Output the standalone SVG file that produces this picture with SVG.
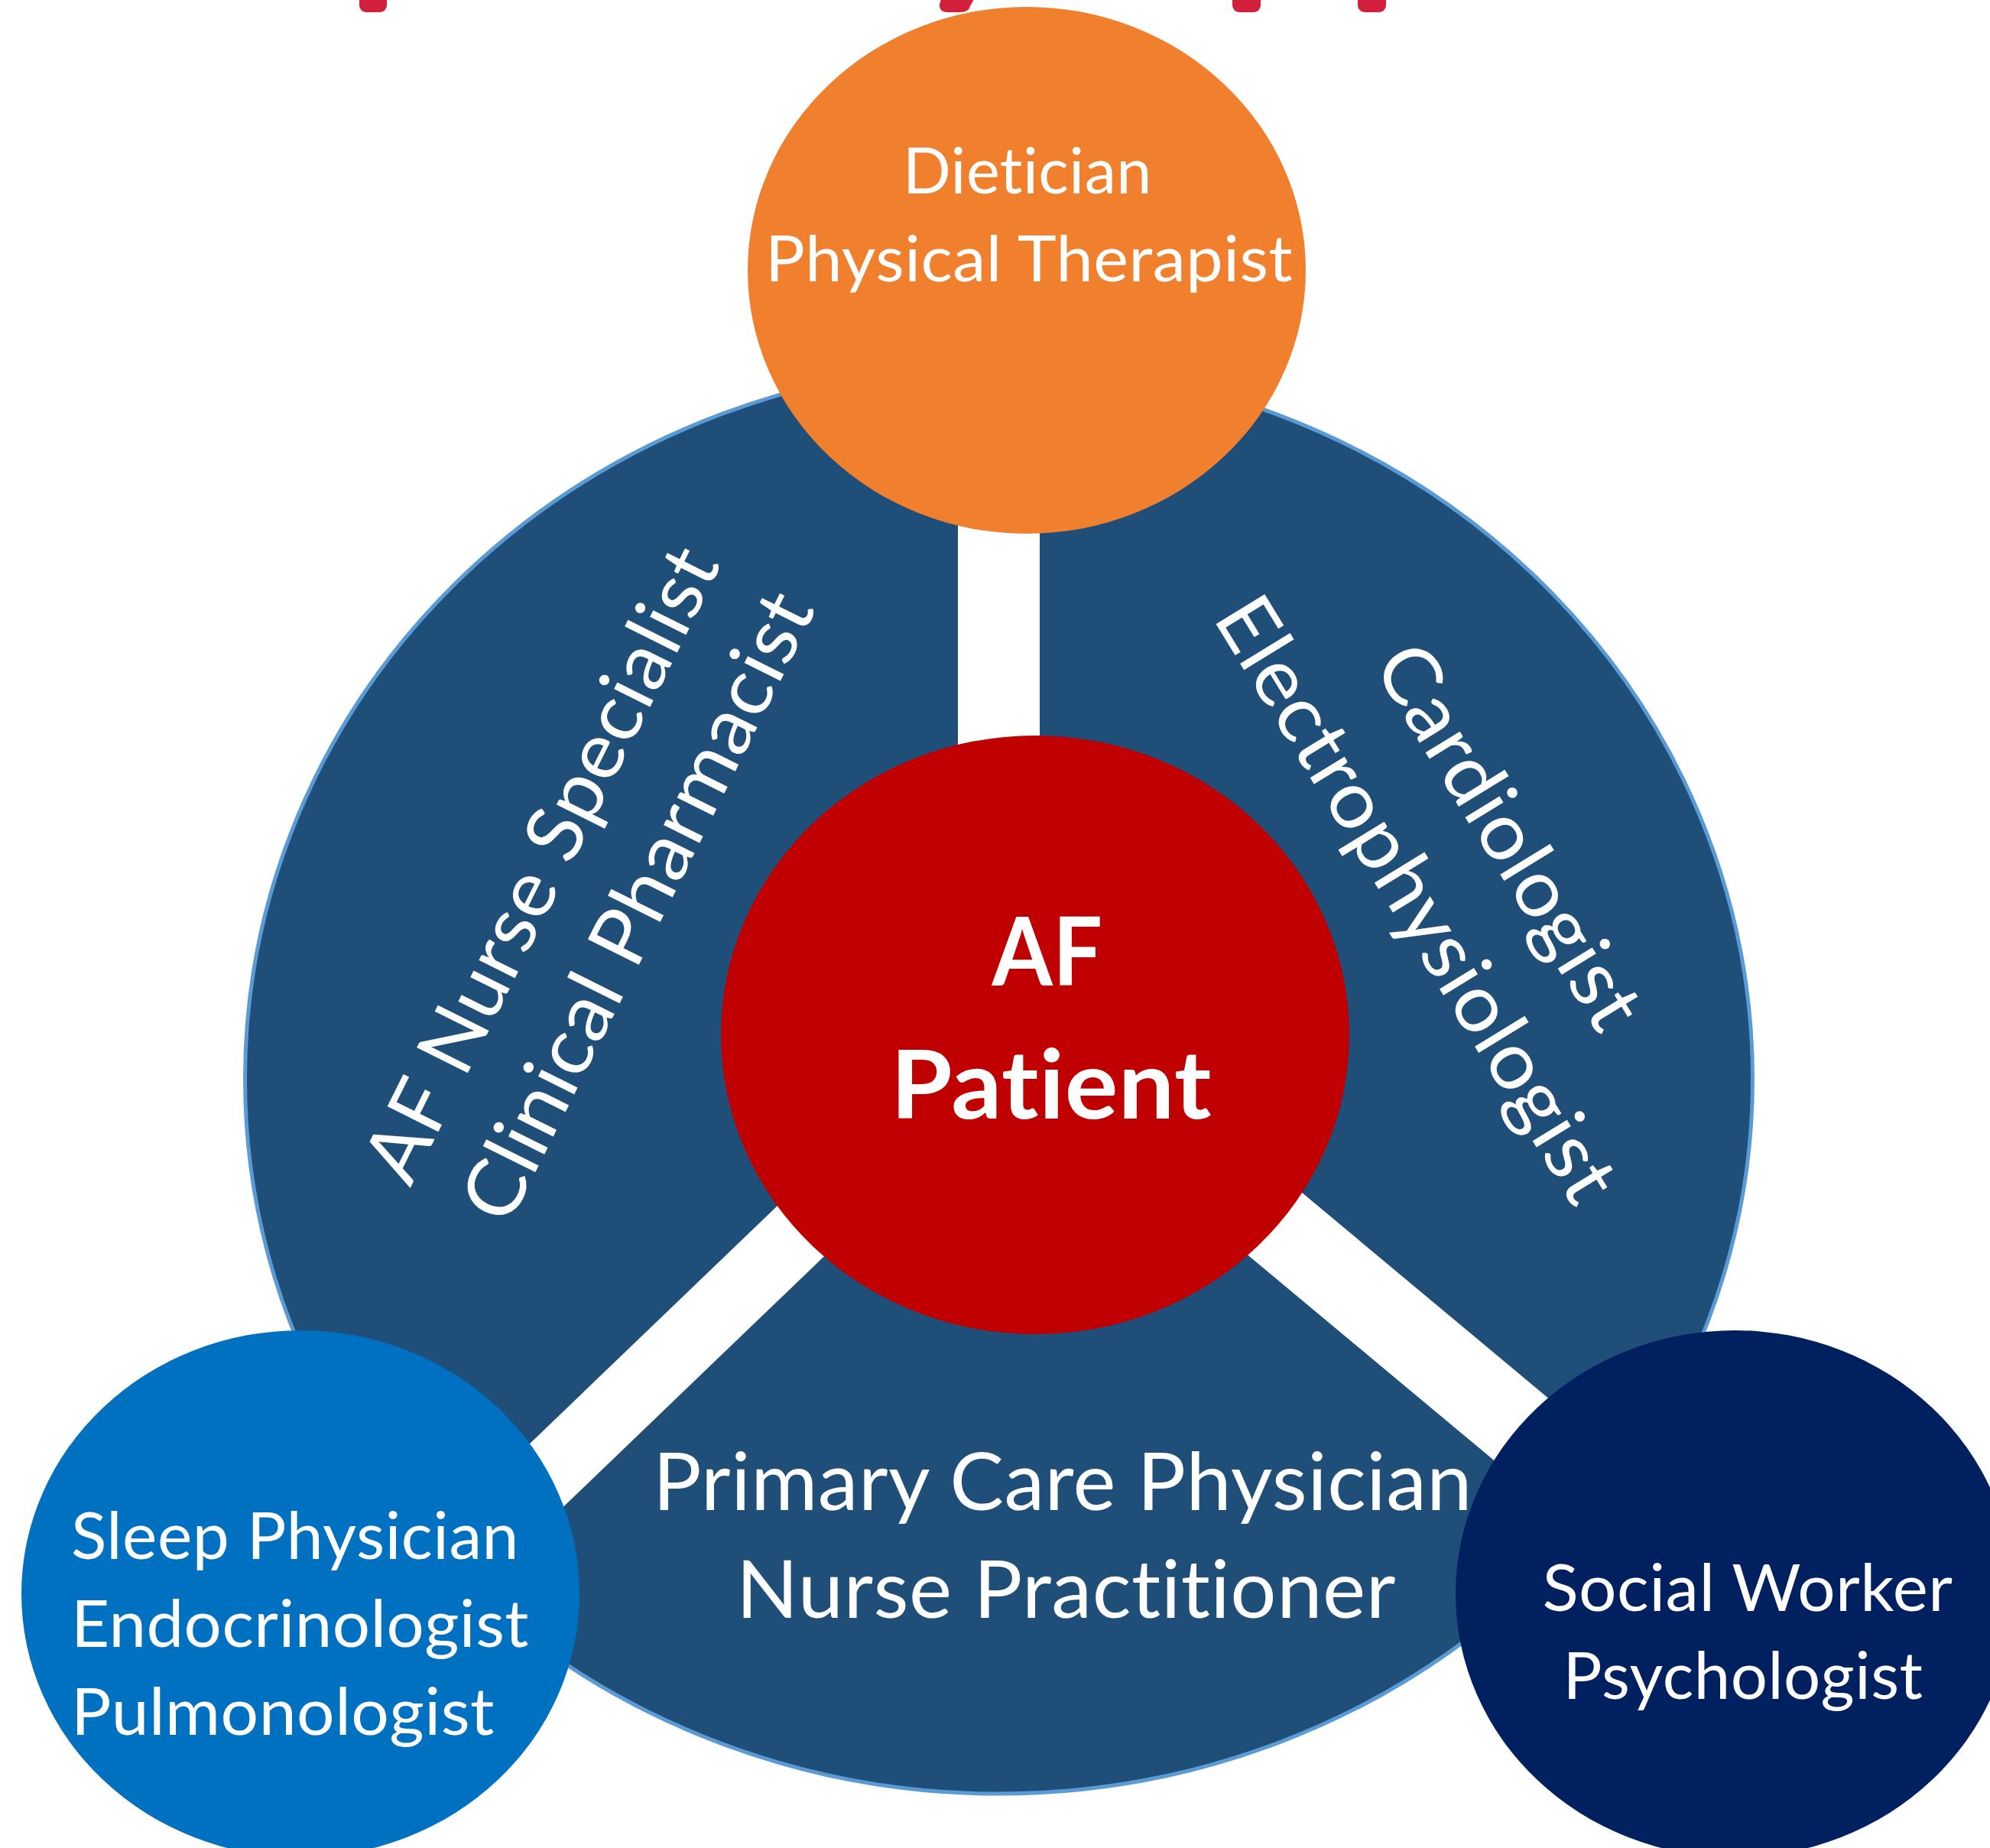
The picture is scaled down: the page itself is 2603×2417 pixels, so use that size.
<svg xmlns="http://www.w3.org/2000/svg" width="2603" height="2417" viewBox="0 0 2603 2417">
<style>
  .lbl{font-family:Lato,"Open Sans","Liberation Sans",sans-serif;fill:#ffffff;text-anchor:middle;font-variant-ligatures:none;font-feature-settings:"liga" 0,"clig" 0,"dlig" 0;letter-spacing:0.5px}
  .lft{text-anchor:start}
  .bold{font-weight:700}
  .ttl{fill:#D21F3B}
  .band{stroke:#ffffff;fill:none;stroke-linecap:butt}
</style>
<rect x="0" y="0" width="2603" height="2417" fill="#ffffff"/>
<g id="title-fragment">
  <rect class="ttl" x="470" y="-20" width="36" height="36" rx="9"/>
  <path class="ttl" d="M1232,-5 L1276,-5 L1269,8 Q1267,16 1256,16 L1240,16 Q1228,16 1229,6 Z"/>
  <rect class="ttl" x="1612" y="-20" width="37" height="36" rx="9"/>
  <rect class="ttl" x="1776" y="-20" width="37" height="36" rx="9"/>
</g>
<g id="node-team-ring">
  <ellipse cx="1306.5" cy="1411" rx="986" ry="935" fill="#1F4E79" stroke="#5B9BD5" stroke-width="5"/>
</g>
<g id="connectors">
  <line class="band" x1="1306.5" y1="500" x2="1306.5" y2="1250" stroke-width="107"/>
  <line class="band" x1="1250" y1="1415.4" x2="500" y2="2136" stroke-width="90"/>
  <line class="band" x1="1400" y1="1377.5" x2="2150" y2="2003" stroke-width="108"/>
</g>
<g id="node-nurse-pharmacist">
  <g transform="translate(706,1129) rotate(-63.5)">
    <text class="lbl" x="0" y="38" font-size="104" textLength="912" lengthAdjust="spacingAndGlyphs">AF Nurse Specialist</text>
  </g>
  <g transform="translate(832,1184) rotate(-63.5)">
    <text class="lbl" x="0" y="38" font-size="104" textLength="904" lengthAdjust="spacingAndGlyphs">Clinical Pharmacist</text>
  </g>
</g>
<g id="node-cardiology">
  <g transform="translate(1976,1093) rotate(58.5)">
    <text class="lbl" x="0" y="38" font-size="104" textLength="570" lengthAdjust="spacingAndGlyphs">Cardiologist</text>
  </g>
  <g transform="translate(1855,1175) rotate(58.5)">
    <text class="lbl" x="0" y="38" font-size="104" textLength="908" lengthAdjust="spacingAndGlyphs">Electrophysiologist</text>
  </g>
</g>
<g id="node-primary-care">
  <text class="lbl" x="1390" y="1975" font-size="104" textLength="1072" lengthAdjust="spacingAndGlyphs">Primary Care Physician</text>
  <text class="lbl" x="1394.5" y="2116" font-size="104" textLength="863" lengthAdjust="spacingAndGlyphs">Nurse Practitioner</text>
</g>
<g id="node-af-patient">
  <ellipse cx="1354" cy="1353.5" rx="411" ry="391.5" fill="#C00000"/>
  <text class="lbl bold" x="1370" y="1289" font-size="125" textLength="145" lengthAdjust="spacingAndGlyphs">AF</text>
  <text class="lbl bold" x="1375" y="1463" font-size="125" textLength="420" lengthAdjust="spacingAndGlyphs">Patient</text>
</g>
<g id="node-dietician">
  <ellipse cx="1343" cy="353.5" rx="365" ry="344.5" fill="#F0802E"/>
  <text class="lbl" x="1344" y="253" font-size="84" textLength="326" lengthAdjust="spacingAndGlyphs">Dietician</text>
  <text class="lbl" x="1346" y="368" font-size="84" textLength="690" lengthAdjust="spacingAndGlyphs">Physical Therapist</text>
</g>
<g id="node-sleep">
  <ellipse cx="393" cy="2084.5" rx="365" ry="344.5" fill="#0070C0"/>
  <text class="lbl lft" x="93" y="2039" font-size="86" textLength="586" lengthAdjust="spacingAndGlyphs">Sleep Physician</text>
  <text class="lbl lft" x="93" y="2154" font-size="86" textLength="599" lengthAdjust="spacingAndGlyphs">Endocrinologist</text>
  <text class="lbl lft" x="93" y="2269" font-size="86" textLength="554" lengthAdjust="spacingAndGlyphs">Pulmonologist</text>
</g>
<g id="node-social">
  <ellipse cx="2269" cy="2084.5" rx="365" ry="344.5" fill="#002060"/>
  <text class="lbl" x="2286" y="2107" font-size="85" textLength="537" lengthAdjust="spacingAndGlyphs">Social Worker</text>
  <text class="lbl" x="2280" y="2222" font-size="85" textLength="471" lengthAdjust="spacingAndGlyphs">Psychologist</text>
</g>
</svg>
